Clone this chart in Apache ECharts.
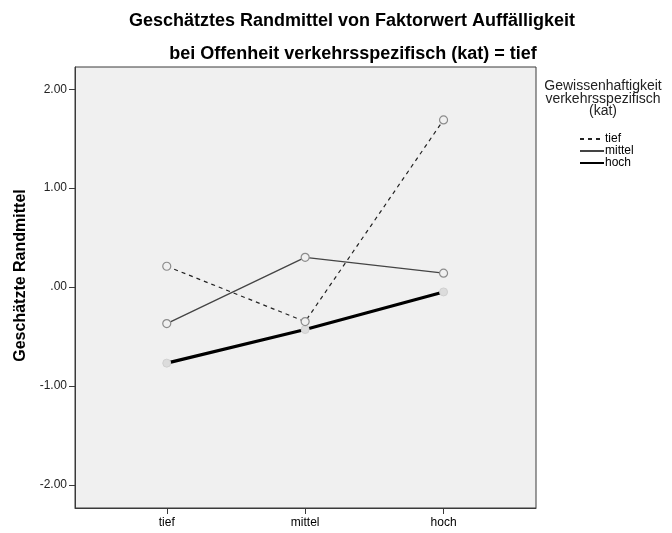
<!DOCTYPE html>
<html>
<head>
<meta charset="utf-8">
<script src="https://cdn.jsdelivr.net/npm/echarts@6/dist/echarts.min.js"></script>
<style>
  html, body { margin: 0; padding: 0; background: #ffffff; }
  #chart { width: 672px; height: 533px; }
</style>
</head>
<body>
<div id="chart"></div>
<script>
// Categories on the x axis (Gewissenhaftigkeit levels are the series)
const categories = ['tief', 'mittel', 'hoch'];
const seriesNames = ['tief', 'mittel', 'hoch'];

// Estimated marginal means per series
const valuesTief   = [0.21, -0.35, 1.69];
const valuesMittel = [-0.37, 0.30, 0.14];
const valuesHoch   = [-0.77, -0.43, -0.05];

// Y axis tick positions and labels
const yTicks = [-2, -1, 0, 1, 2];
const yTickLabels = ['-2.00', '-1.00', '.00', '1.00', '2.00'];

const FONT = 'Liberation Sans, Arial, sans-serif';
const FRAME = '#3a3a3a';

function toPoints(vals) {
  return vals.map((v, i) => [i, v]);
}

const chart = echarts.init(document.getElementById('chart'), null, { renderer: 'canvas' });

const markerStyle = { color: '#f0f0f0', borderColor: '#8c8c8c', borderWidth: 1.2 };

const option = {
  backgroundColor: '#ffffff',
  animation: false,
  title: [
    {
      text: 'Geschätztes Randmittel von Faktorwert Auffälligkeit',
      left: 347, top: 7, textAlign: 'center',
      textStyle: { fontFamily: FONT, fontSize: 18, fontWeight: 'bold', color: '#000' }
    },
    {
      text: 'bei Offenheit verkehrsspezifisch (kat) = tief',
      left: 348, top: 40, textAlign: 'center',
      textStyle: { fontFamily: FONT, fontSize: 18, fontWeight: 'bold', color: '#000' }
    },
    {
      text: 'Gewissenhaftigkeit\nverkehrsspezifisch\n(kat)',
      left: 598, top: 75, textAlign: 'center',
      textStyle: { fontFamily: FONT, fontSize: 14, fontWeight: 'normal', color: '#222', lineHeight: 12.5, align: 'center' }
    }
  ],
  legend: {
    orient: 'vertical',
    left: 579, top: 133, padding: 0,
    itemWidth: 24, itemHeight: 8, itemGap: 0,
    data: seriesNames,
    itemStyle: { opacity: 0 },
    textStyle: { fontFamily: FONT, fontSize: 12, color: '#000', padding: [0, 0, 0, -4], lineHeight: 12 },
    selectedMode: false
  },
  grid: { left: 75, top: 67, width: 461, height: 441, show: true,
          backgroundColor: '#f0f0f0', borderColor: FRAME, borderWidth: 1 },
  xAxis: {
    type: 'value', min: -0.663, max: 2.668,
    splitLine: { show: false },
    axisLine: { show: true, onZero: false, lineStyle: { color: FRAME, width: 1 } },
    axisTick: { show: true, length: 6, customValues: [0, 1, 2], lineStyle: { color: FRAME, width: 1 } },
    axisLabel: {
      customValues: [0, 1, 2],
      formatter: v => categories[Math.round(v)],
      fontFamily: FONT, fontSize: 12, color: '#000', margin: 9
    }
  },
  yAxis: {
    type: 'value', min: -2.235, max: 2.225,
    name: 'Geschätzte Randmittel',
    nameLocation: 'middle', nameGap: 46,
    nameTextStyle: { fontFamily: FONT, fontSize: 16, fontWeight: 'bold', color: '#000', padding: [0, 0, 0, 24] },
    splitLine: { show: false },
    axisLine: { show: true, onZero: false, lineStyle: { color: FRAME, width: 1 } },
    axisTick: { show: true, length: 6, customValues: yTicks, lineStyle: { color: FRAME, width: 1 } },
    axisLabel: {
      customValues: yTicks,
      formatter: v => yTickLabels[yTicks.indexOf(Math.round(v))],
      fontFamily: FONT, fontSize: 12, color: '#222', margin: 8
    }
  },
  series: [
    {
      name: 'tief', type: 'line', data: toPoints(valuesTief),
      symbol: 'circle', symbolSize: 8, z: 3,
      lineStyle: { color: '#222', width: 1.2, type: [4, 4] },
      itemStyle: markerStyle
    },
    {
      name: 'mittel', type: 'line', data: toPoints(valuesMittel),
      symbol: 'circle', symbolSize: 8, z: 3,
      lineStyle: { color: '#444', width: 1.3, type: 'solid' },
      itemStyle: markerStyle
    },
    {
      name: 'hoch', type: 'line', data: toPoints(valuesHoch),
      symbol: 'circle', symbolSize: 8, z: 2,
      lineStyle: { color: '#000', width: 3.2, type: 'solid' },
      itemStyle: { color: '#dcdcdc', borderColor: '#d0d0d0', borderWidth: 1 }
    }
  ]
};

chart.setOption(option);
</script>
</body>
</html>
